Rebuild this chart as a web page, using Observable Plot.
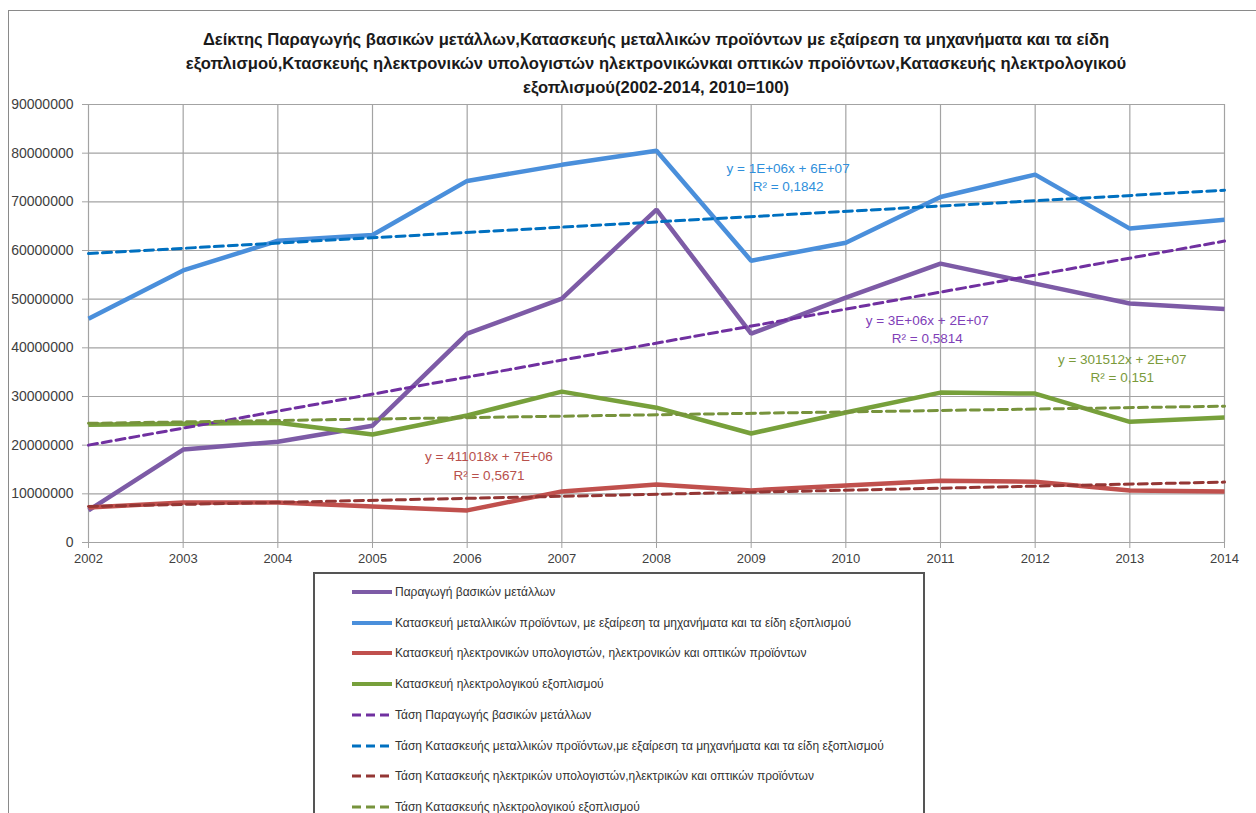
<!DOCTYPE html>
<html>
<head>
<meta charset="utf-8">
<script src="https://cdn.jsdelivr.net/npm/d3@7"></script>
<script src="https://cdn.jsdelivr.net/npm/@observablehq/plot@0.6"></script>
<style>
  html, body { margin: 0; padding: 0; background: #fff; }
  #wrap { position: relative; width: 1256px; height: 813px; overflow: hidden; font-family: "Liberation Sans", Arial, sans-serif; }
  #frame { position: absolute; left: 8px; top: 10px; width: 1260px; height: 820px; border: 1.5px solid #8a8a8a; box-sizing: border-box; }
  #title { position: absolute; left: 56px; top: 28px; width: 1200px; text-align: center; font-weight: bold; font-size: 16.6px; line-height: 24px; color: #1a1a1a; }
  #chart { position: absolute; left: 0; top: 96px; }
  #legend { position: absolute; left: 313px; top: 572px; width: 612px; height: 280px; border: 2px solid #555; box-sizing: border-box; background: #fff; }
  .item { position: absolute; left: 37px; height: 14px; display: flex; align-items: center; font-size: 12px; color: #333; white-space: nowrap; }
  .item svg { margin-right: 3px; }
</style>
</head>
<body>
<div id="wrap">
  <div id="frame"></div>
  <div id="title">Δείκτης Παραγωγής βασικών μετάλλων,Κατασκευής μεταλλικών προϊόντων με εξαίρεση τα μηχανήματα και τα είδη<br>εξοπλισμού,Κτασκευής ηλεκτρονικών υπολογιστών ηλεκτρονικώνκαι οπτικών προϊόντων,Κατασκευής ηλεκτρολογικού<br>εξοπλισμού(2002-2014, 2010=100)</div>
  <div id="chart"></div>
  <div id="legend"></div>
</div>
<script>
// ---- Data ----
const years = [2002, 2003, 2004, 2005, 2006, 2007, 2008, 2009, 2010, 2011, 2012, 2013, 2014];
const yTicks = [0, 10000000, 20000000, 30000000, 40000000, 50000000, 60000000, 70000000, 80000000, 90000000];

const basicMetals   = [6600000, 19100000, 20700000, 24000000, 42900000, 50100000, 68400000, 42900000, 50300000, 57300000, 53200000, 49100000, 48000000];
const metalProducts = [46000000, 55900000, 62000000, 63200000, 74300000, 77600000, 80500000, 57900000, 61600000, 71000000, 75600000, 64500000, 66300000];
const electronics   = [7200000, 8200000, 8200000, 7400000, 6600000, 10500000, 11900000, 10700000, 11700000, 12700000, 12500000, 10700000, 10500000];
const electrical    = [24200000, 24400000, 24600000, 22200000, 26100000, 31000000, 27700000, 22400000, 26700000, 30800000, 30600000, 24800000, 25700000];

const seriesNames = [
  "Παραγωγή βασικών μετάλλων",
  "Κατασκευή μεταλλικών προϊόντων, με εξαίρεση τα μηχανήματα και τα είδη εξοπλισμού",
  "Κατασκευή ηλεκτρονικών υπολογιστών, ηλεκτρονικών και οπτικών προϊόντων",
  "Κατασκευή ηλεκτρολογικού εξοπλισμού"
];
const trendNames = [
  "Τάση Παραγωγής βασικών μετάλλων",
  "Τάση Κατασκευής μεταλλικών προϊόντων,με εξαίρεση τα μηχανήματα και τα είδη εξοπλισμού",
  "Τάση Κατασκευής ηλεκτρικών υπολογιστών,ηλεκτρικών και οπτικών προϊόντων",
  "Τάση Κατασκευής ηλεκτρολογικού εξοπλισμού"
];
const solidColors = ["#7d5ba6", "#4a8fdb", "#c0504d", "#77a03b"];
const trendColors = ["#7030a0", "#0070c0", "#943634", "#77933c"];
const textColors  = ["#8040b8", "#2f8fdb", "#b8504c", "#7a9a3a"];

// Trend-line equation labels (as shown in the chart) and their anchors in data units
const annotText = [
  "y = 3E+06x + 2E+07\nR² = 0,5814",
  "y = 1E+06x + 6E+07\nR² = 0,1842",
  "y = 411018x + 7E+06\nR² = 0,5671",
  "y = 301512x + 2E+07\nR² = 0,151"
];
const annotYear  = [2010.86, 2009.39, 2006.23, 2012.92];
const annotValue = [44000000, 75200000, 16000000, 36100000];

// ---- Build tables ----
const allValues = [basicMetals, metalProducts, electronics, electrical];
const rows = allValues.map((vals, s) => years.map((yr, i) => ({ series: s, year: yr, value: vals[i] })));
const annots = annotText.map((t, i) => ({ text: t, year: annotYear[i], value: annotValue[i], color: textColors[i] }));

const marks = [
  Plot.gridX(years, { stroke: "#a3a3a3", strokeOpacity: 1, strokeWidth: 1.2 }),
  Plot.gridY(yTicks, { stroke: "#a3a3a3", strokeOpacity: 1, strokeWidth: 1.2 }),
  Plot.axisX(years, { tickFormat: "d", tickSize: 6, tickPadding: 5, stroke: "#a3a3a3", fill: "#404040", fontSize: 13 }),
  Plot.axisY(yTicks, { tickFormat: d => String(d), tickSize: 6, tickPadding: 9, stroke: "#a3a3a3", fill: "#404040", fontSize: 14 })
];
rows.forEach((r, s) => {
  marks.push(Plot.line(r, { x: "year", y: "value", stroke: solidColors[s], strokeWidth: 4.5, strokeLinejoin: "miter", strokeLinecap: "butt" }));
});
rows.forEach((r, s) => {
  marks.push(Plot.linearRegressionY(r, { x: "year", y: "value", stroke: trendColors[s], strokeWidth: 3, strokeDasharray: "9,5", ci: 0 }));
});
marks.push(Plot.text(annots, { x: "year", y: "value", text: "text", fill: "color", fontSize: 13.5, lineHeight: 1.35, textAnchor: "middle" }));

const chart = Plot.plot({
  width: 1256,
  height: 476,
  marginLeft: 88,
  marginRight: 32,
  marginTop: 8,
  marginBottom: 30,
  x: { domain: [2002, 2014], label: null, axis: null },
  y: { domain: [0, 90000000], label: null, axis: null },
  style: { fontFamily: "Liberation Sans, Arial, sans-serif", fontSize: "13px", background: "transparent", color: "#404040" },
  marks
});
document.getElementById("chart").appendChild(chart);

// ---- Legend ----
const legend = document.getElementById("legend");
const legendItems = seriesNames.map((n, i) => ({ name: n, color: solidColors[i], dashed: false }))
  .concat(trendNames.map((n, i) => ({ name: n, color: trendColors[i], dashed: true })));
legendItems.forEach((it, i) => {
  const div = document.createElement("div");
  div.className = "item";
  div.style.top = (11 + i * 30.7) + "px";
  const dash = it.dashed ? 'stroke-dasharray="9,5"' : "";
  const w = it.dashed ? 3 : 4;
  div.innerHTML = `<svg width="40" height="10"><line x1="0" y1="5" x2="40" y2="5" stroke="${it.color}" stroke-width="${w}" ${dash}/></svg><span>${it.name}</span>`;
  legend.appendChild(div);
});
</script>
</body>
</html>
